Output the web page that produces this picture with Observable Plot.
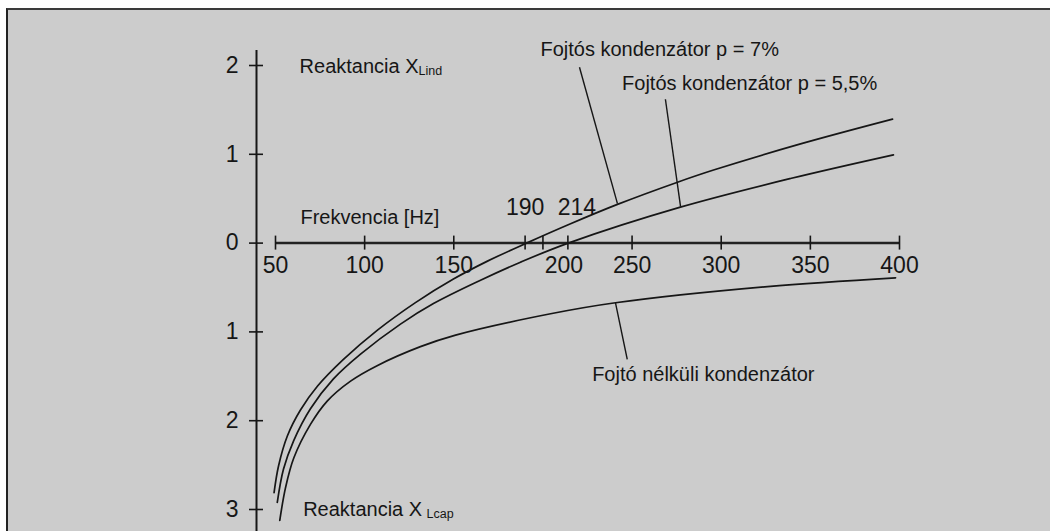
<!DOCTYPE html>
<html>
<head>
<meta charset="utf-8">
<script src="https://cdn.jsdelivr.net/npm/d3@7"></script>
<script src="https://cdn.jsdelivr.net/npm/@observablehq/plot@0.6"></script>
<style>
  html, body { margin: 0; padding: 0; background: #ffffff; overflow: hidden; }
  #frame { position: absolute; left: 6px; top: 8px; width: 1100px; height: 600px;
           background: #cccccc; border-top: 2px solid #3a3a3a; border-left: 2px solid #222222; }
  #chart { position: absolute; left: 0; top: 0; }
</style>
</head>
<body>
<div id="frame"></div>
<div id="chart"></div>
<script>
// Frequency axis ticks [Hz]
const xTicks = [50, 100, 150, 200, 250, 300, 350, 400];
const resonanceTicks = [190, 214];
// Reactance axis ticks (inductive positive, capacitive negative)
const yTicks = [2, 1, 0, -1, -2, -3];

// Curves: [frequency Hz, reactance]
const choke7 = [[49.2,-2.81],[51.7,-2.51],[56.7,-2.17],[64.0,-1.88],[73.6,-1.61],[88.1,-1.31],[107.2,-0.98],
  [128.5,-0.67],[149.8,-0.405],[168.9,-0.203],[190.8,0.0],[215.5,0.218],[241.8,0.436],[275.5,0.686],
  [295.7,0.823],[344.5,1.117],[396.1,1.396]];
const choke55 = [[51.0,-2.92],[54.5,-2.545],[60.1,-2.23],[69.6,-1.866],[82.5,-1.529],[97.7,-1.25],[120.1,-0.912],
  [138.6,-0.681],[165.0,-0.418],[187.4,-0.215],[214.2,0.0],[277.1,0.405],[338.8,0.727],[396.6,0.994]];
const noChoke = [[52.4,-3.123],[55.6,-2.756],[60.3,-2.418],[69.6,-2.042],[79.0,-1.779],[92.1,-1.554],[107.0,-1.38],
  [131.3,-1.166],[151.0,-1.036],[204.3,-0.796],[240.7,-0.672],[326.0,-0.49],[397.8,-0.391]];

// Texts and where they sit (data coordinates)
const labels = [
  {text: "Reaktancia X", f: 63.5, v: 1.918},
  {text: "Reaktancia X", f: 65.5, v: -3.074},
  {text: "Frekvencia [Hz]", f: 64.0, v: 0.211},
  {text: "Fojtós kondenzátor p = 7%", f: 198.6, v: 2.106},
  {text: "Fojtós kondenzátor p = 5,5%", f: 244.4, v: 1.723},
  {text: "Fojtó nélküli kondenzátor", f: 227.6, v: -1.554}
];
const subLabels = [
  {text: "Lind", f: 130.2, v: 1.889},
  {text: "Lcap", f: 134.7, v: -3.097}
];
const leaders = [
  {f1: 220.5, v1: 1.98, f2: 241.8, v2: 0.445},
  {f1: 268.7, v1: 1.62, f2: 277.2, v2: 0.41},
  {f1: 240.7, v1: -0.672, f2: 247.3, v2: -1.31}
];

const ink = "#161616";
const font = "'Liberation Sans', Arial, sans-serif";

const chart = Plot.plot({
  width: 1050,
  height: 531,
  marginLeft: 256, marginRight: 151, marginTop: 50, marginBottom: 0,
  x: {domain: [50, 400], range: [275, 899], axis: null},
  y: {domain: [-3, 2], range: [509, 65], axis: null},
  style: {background: "transparent", fontFamily: font, color: ink, overflow: "visible"},
  marks: [
    // vertical reactance axis
    Plot.ruleX([xTicks[0]], {x: d => d, dx: -19, stroke: ink, strokeWidth: 2}),
    Plot.ruleY(yTicks, {y: d => d, x1: xTicks[0], x2: xTicks[0], dx: -19, insetLeft: -7, insetRight: -7, stroke: ink, strokeWidth: 1.6}),
    Plot.text(yTicks, {x: xTicks[0], y: d => d, text: d => String(Math.abs(d)), dx: -37, textAnchor: "end", fontSize: 23, fill: ink}),
    // frequency axis along zero
    Plot.ruleY([0], {x1: d3.min(xTicks), x2: d3.max(xTicks), stroke: "#222", strokeWidth: 2.5}),
    Plot.ruleX(xTicks.concat(resonanceTicks), {x: d => d, y1: 0, y2: 0, insetTop: -7, insetBottom: -7, stroke: ink, strokeWidth: 1.6}),
    Plot.text(xTicks.filter(d => d !== 200), {x: d => d, y: 0, text: d => String(d), dy: 14, lineAnchor: "top", fontSize: 23, fill: ink}),
    Plot.text([200], {x: d => d, y: 0, text: d => String(d), dx: 21, dy: 14, lineAnchor: "top", fontSize: 23, fill: ink}),
    Plot.text([resonanceTicks[0]], {x: d => d, y: 0, text: d => String(d), dy: -28, lineAnchor: "bottom", fontSize: 23, fill: ink}),
    Plot.text([resonanceTicks[1]], {x: d => d, y: 0, text: d => String(d), dx: 9, dy: -28, lineAnchor: "bottom", fontSize: 23, fill: ink}),
    // curves
    Plot.line(choke7, {x: d => d[0], y: d => d[1], curve: "catmull-rom", stroke: ink, strokeWidth: 1.7}),
    Plot.line(choke55, {x: d => d[0], y: d => d[1], curve: "catmull-rom", stroke: ink, strokeWidth: 1.7}),
    Plot.line(noChoke, {x: d => d[0], y: d => d[1], curve: "catmull-rom", stroke: ink, strokeWidth: 1.7}),
    // leader lines
    Plot.link(leaders, {x1: "f1", y1: "v1", x2: "f2", y2: "v2", stroke: ink, strokeWidth: 1.4}),
    // texts
    Plot.text(labels, {x: "f", y: "v", text: "text", textAnchor: "start", lineAnchor: "bottom", fontSize: 20, fill: ink}),
    Plot.text(subLabels, {x: "f", y: "v", text: "text", textAnchor: "start", lineAnchor: "bottom", fontSize: 12.5, fill: ink})
  ]
});
document.getElementById("chart").appendChild(chart);
</script>
</body>
</html>
